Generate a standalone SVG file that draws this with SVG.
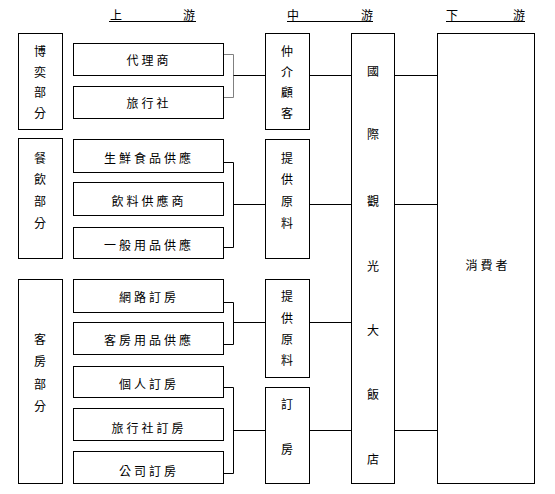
<svg xmlns="http://www.w3.org/2000/svg" width="555" height="494" viewBox="0 0 555 494">
<style>
rect{fill:#fff;stroke:#000;stroke-width:1}
.c{fill:none;stroke:#000;stroke-width:1}
.g{stroke:#808080}
text{font-family:"Noto Sans CJK TC","Noto Sans CJK SC",sans-serif;font-size:12px;fill:#000;text-anchor:middle}
.h{letter-spacing:3px}
</style>
<rect x="0" y="0" width="555" height="494" style="fill:#fff;stroke:none"/>
<g id="headers">
<text x="116" y="20">上</text><text x="189" y="20">游</text>
<text x="293" y="20">中</text><text x="367" y="20">游</text>
<text x="452" y="20">下</text><text x="519" y="20">游</text>
<path class="c" d="M109 21.5H196M287 21.5H373M446 21.5H525"/>
</g>
<g id="connectors">
<path class="c g" d="M223 54.5H233.5V97.5H223"/>
<path class="c" d="M233.5 75.5H265M309 75.5H351M394 75.5H437"/>
<path class="c" d="M223 162.5H233.5V247.5H223M233.5 204.5H265M309 204.5H351M394 204.5H437"/>
<path class="c" d="M223 302.5H233.5V344.5H223M233.5 322.5H265M309 322.5H351"/>
<path class="c" d="M223 387.5H233.5V473.5H223M233.5 430.5H265M309 430.5H351M394 430.5H437"/>
</g>
<g id="n-gambling"><rect x="18.5" y="33.5" width="44" height="96"/>
<text x="40" y="56">博</text><text x="40" y="77">奕</text><text x="40" y="97">部</text><text x="40" y="118">分</text></g>
<g id="n-food"><rect x="18.5" y="138.5" width="44" height="120"/>
<text x="40" y="163">餐</text><text x="40" y="184">飲</text><text x="40" y="206">部</text><text x="40" y="228">分</text></g>
<g id="n-rooms"><rect x="18.5" y="279.5" width="44" height="204"/>
<text x="40" y="344">客</text><text x="40" y="366">房</text><text x="40" y="389">部</text><text x="40" y="411">分</text></g>
<g id="n-agent"><rect x="73.5" y="43.5" width="150" height="32"/><text class="h" x="149" y="65">代理商</text></g>
<g id="n-travel"><rect x="73.5" y="86.5" width="150" height="32"/><text class="h" x="149" y="108">旅行社</text></g>
<g id="n-fresh"><rect x="73.5" y="139.5" width="150" height="33"/><text class="h" x="149" y="163">生鮮食品供應</text></g>
<g id="n-drink"><rect x="73.5" y="182.5" width="150" height="33"/><text class="h" x="149" y="206">飲料供應商</text></g>
<g id="n-general"><rect x="73.5" y="227.5" width="150" height="31"/><text class="h" x="149" y="250">一般用品供應</text></g>
<g id="n-online"><rect x="73.5" y="279.5" width="150" height="33"/><text class="h" x="149" y="302">網路訂房</text></g>
<g id="n-roomsupply"><rect x="73.5" y="322.5" width="150" height="32"/><text class="h" x="149" y="345">客房用品供應</text></g>
<g id="n-personal"><rect x="73.5" y="366.5" width="150" height="31"/><text class="h" x="149" y="389">個人訂房</text></g>
<g id="n-travelbook"><rect x="73.5" y="408.5" width="150" height="32"/><text class="h" x="149" y="433">旅行社訂房</text></g>
<g id="n-company"><rect x="73.5" y="451.5" width="150" height="32"/><text class="h" x="149" y="476">公司訂房</text></g>
<g id="n-broker"><rect x="265.5" y="33.5" width="44" height="96"/>
<text x="287" y="56">仲</text><text x="287" y="77">介</text><text x="287" y="97">顧</text><text x="287" y="118">客</text></g>
<g id="n-supply1"><rect x="265.5" y="139.5" width="44" height="119"/>
<text x="287" y="163">提</text><text x="287" y="184">供</text><text x="287" y="206">原</text><text x="287" y="228">料</text></g>
<g id="n-supply2"><rect x="265.5" y="279.5" width="44" height="98"/>
<text x="287" y="301">提</text><text x="287" y="323">供</text><text x="287" y="344">原</text><text x="287" y="365">料</text></g>
<g id="n-booking"><rect x="265.5" y="387.5" width="44" height="96"/>
<text x="287" y="409">訂</text><text x="287" y="454">房</text></g>
<g id="n-hotel"><rect x="351.5" y="33.5" width="43" height="450"/>
<text x="373" y="76">國</text><text x="373" y="139">際</text><text x="373" y="206">觀</text><text x="373" y="271">光</text><text x="373" y="335">大</text><text x="373" y="399">飯</text><text x="373" y="464">店</text></g>
<g id="n-consumer"><rect x="437.5" y="33.5" width="97" height="450"/>
<text class="h" x="488" y="270">消費者</text></g>
</svg>
